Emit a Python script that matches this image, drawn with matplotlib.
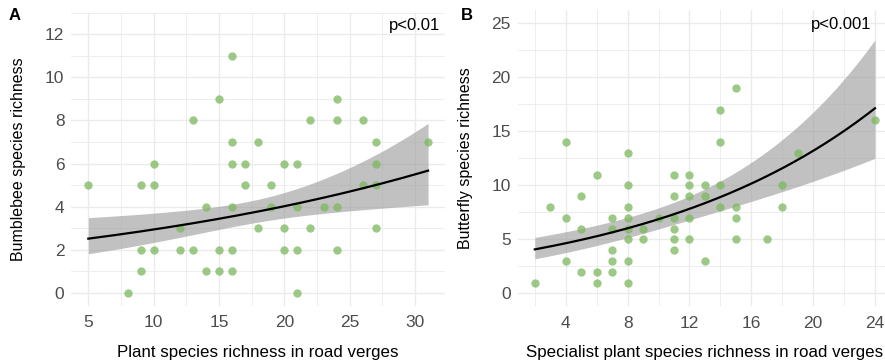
import numpy as np
import matplotlib
matplotlib.use("Agg")
import matplotlib.pyplot as plt
from matplotlib.ticker import MultipleLocator

plt.rcParams["font.family"] = ["Liberation Sans", "DejaVu Sans"]

# panel A: plant richness vs bumblebee richness
plant_x = [5, 8, 9, 9, 9, 10, 10, 10, 12, 12, 13, 13, 14, 14, 15, 15, 15,
           16, 16, 16, 16, 16, 16, 17, 17, 18, 18, 19, 19, 20, 20, 20,
           21, 21, 21, 21, 22, 22, 23, 24, 24, 24, 24, 26, 26, 27, 27, 27, 27, 31]
bee_y = [5, 0, 5, 2, 1, 6, 5, 2, 3, 2, 8, 2, 4, 1, 9, 2, 1,
         11, 7, 6, 4, 2, 1, 6, 5, 7, 3, 5, 4, 6, 3, 2,
         6, 4, 2, 0, 8, 3, 4, 9, 8, 4, 2, 8, 5, 7, 6, 5, 3, 7]

# panel B: specialist plant richness vs butterfly richness
spec_x = [2, 3, 4, 4, 4, 5, 5, 5, 6, 6, 6, 7, 7, 7, 7, 7,
          8, 8, 8, 8, 8, 8, 8, 8, 9, 9, 10, 11, 11, 11, 11, 11, 11,
          12, 12, 12, 12, 12, 13, 13, 13, 14, 14, 14, 14, 15, 15, 15, 15,
          17, 18, 18, 19, 24]
fly_y = [1, 8, 14, 7, 3, 9, 6, 2, 11, 2, 1, 7, 6, 4, 3, 2,
         13, 10, 8, 7, 6, 5, 3, 1, 6, 5, 7, 11, 9, 7, 6, 5, 4,
         11, 10, 9, 7, 5, 10, 9, 3, 17, 14, 10, 8, 19, 8, 7, 5,
         5, 10, 8, 13, 16]

# fitted log-linear models:
# intercept, slope, min half-width of CI (log scale), x at min, slope of half-width
fit_a = [0.7636, 0.03134, 0.14, 18.0, 0.0228]
fit_b = [1.2729, 0.06533, 0.14, 11.0, 0.0217]

green = "#7cb85f"
tick_col = "#4d4d4d"
grid_col = "#ebebeb"


def panel(ax, x, y, fit, xlim, ylim, xmaj, ymaj, xlab, ylab, ptxt, ppos, xlab_y, ylab_x):
    ax.set_xlim(*xlim)
    ax.set_ylim(*ylim)
    ax.xaxis.set_major_locator(MultipleLocator(xmaj))
    ax.xaxis.set_minor_locator(MultipleLocator(xmaj / 2))
    ax.yaxis.set_major_locator(MultipleLocator(ymaj))
    ax.yaxis.set_minor_locator(MultipleLocator(ymaj / 2))
    ax.grid(which="major", color=grid_col, lw=1.0)
    ax.grid(which="minor", color=grid_col, lw=0.6)
    ax.set_axisbelow(True)
    for s in ax.spines.values():
        s.set_visible(False)
    ax.tick_params(which="both", length=0, labelsize=12.5, labelcolor=tick_col)
    ax.tick_params(axis="x", pad=7)
    ax.tick_params(axis="y", pad=5)

    a, b, h0, xc, sb = fit
    xs = np.linspace(min(x), max(x), 200)
    eta = a + b * xs
    hw = np.sqrt(h0 ** 2 + (sb * (xs - xc)) ** 2)
    ax.fill_between(xs, np.exp(eta - hw), np.exp(eta + hw), color="#999999",
                    alpha=0.6, lw=0, zorder=2)
    ax.scatter(x, y, s=36, color=green, alpha=0.75, lw=0, zorder=3)
    ax.plot(xs, np.exp(eta), color="black", lw=1.6, zorder=4)

    ax.text(ppos[0], ppos[1], ptxt, ha="right", va="center", fontsize=12,
            color="black")
    ax.set_xlabel(xlab, fontsize=12.2)
    ax.xaxis.set_label_coords(0.5, xlab_y)
    ax.xaxis.label.set_va("center")
    ax.set_ylabel(ylab, fontsize=11.5)
    ax.yaxis.set_label_coords(ylab_x, 0.5)
    ax.yaxis.label.set_va("center")


fig = plt.figure(figsize=(8.85, 3.64), dpi=100)
ax1 = fig.add_axes([0.0806, 0.1604, 0.4223, 0.8044])
ax2 = fig.add_axes([0.5851, 0.1585, 0.4228, 0.8132])

panel(ax1, plant_x, bee_y, fit_a, (3.7, 32.3), (-0.6, 13.0), 5, 2,
      "Plant species richness in road verges", "Bumblebee species richness",
      "p<0.01", (31.9, 12.4), -(352 - 305.6) / 292.8, -(71.3 - 18) / 373.7)
panel(ax2, spec_x, fly_y, fit_b, (0.9, 25.1), (-1.2, 26.2), 4, 5,
      "Specialist plant species richness in road verges", "Butterfly species richness",
      "p<0.001", (23.8, 24.9), -(352 - 306.3) / 296.0, -(517.8 - 465) / 374.2)

fig.text(15 / 885, 1 - 16 / 364, "A", fontsize=12, fontweight="bold",
         ha="center", va="center")
fig.text(467 / 885, 1 - 15 / 364, "B", fontsize=12, fontweight="bold",
         ha="center", va="center")

fig.savefig("out.png", dpi=100)
